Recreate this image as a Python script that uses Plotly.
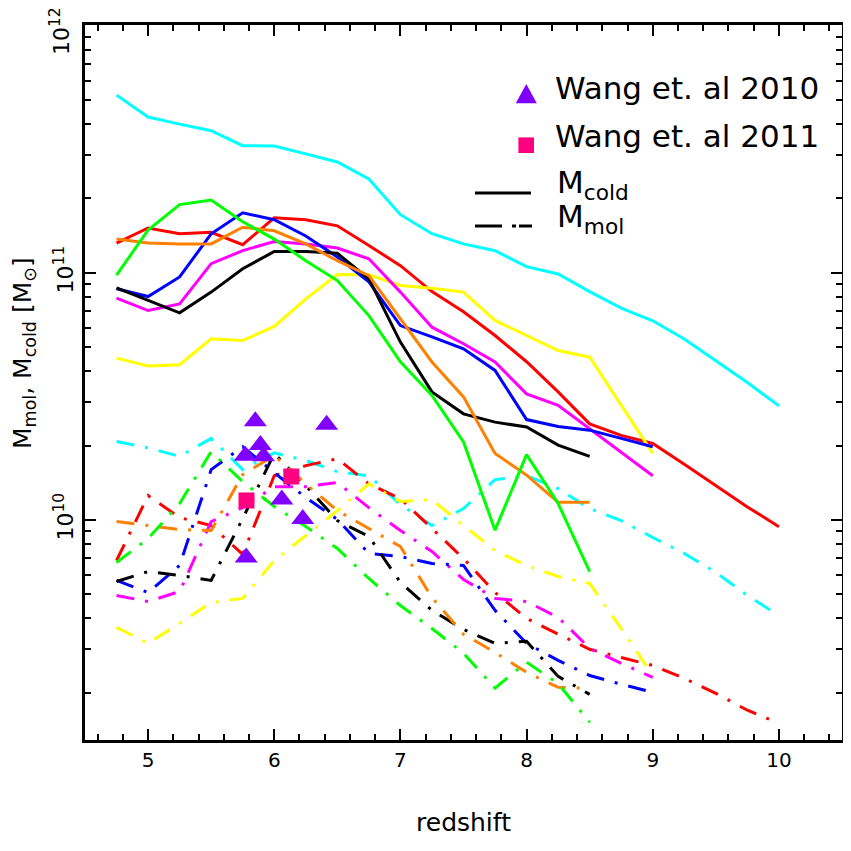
import plotly.graph_objects as go

# ---------------- data ----------------
z_10 = [4.75, 5.0, 5.25, 5.5, 5.75, 6.0, 6.25, 6.5, 6.75, 7.0, 7.25, 7.5,
        7.75, 8.0, 8.25, 8.5, 8.75, 9.0, 9.25, 9.5, 9.75, 10.0]
z_9 = [4.75, 5.0, 5.25, 5.5, 5.75, 6.0, 6.25, 6.5, 6.75, 7.0, 7.25, 7.5,
       7.75, 8.0, 8.25, 8.5, 8.75, 9.0]
z_85 = [4.75, 5.0, 5.25, 5.5, 5.75, 6.0, 6.25, 6.5, 6.75, 7.0, 7.25, 7.5,
        7.75, 8.0, 8.25, 8.5]

# cold gas mass (units of 1e10 Msun)
cold_cyan = [52.4, 42.7, 40.0, 37.6, 32.7, 32.6, 30.3, 28.1, 24.0, 17.2, 14.4, 13.1,
             12.3, 10.6, 9.9, 8.4, 7.2, 6.4, 5.4, 4.4, 3.6, 2.9]
cold_red = [13.2, 15.2, 14.4, 14.6, 13.0, 16.7, 16.4, 15.5, 12.9, 10.7, 8.4, 6.96,
            5.58, 4.37, 3.30, 2.45, 2.20, 2.04, 1.68, 1.38, 1.13, 0.94]
cold_yellow = [4.52, 4.20, 4.25, 5.41, 5.33, 6.07, 7.85, 9.84, 9.82, 8.89, 8.67, 8.36,
               6.42, 5.58, 4.85, 4.56, 2.91, 1.86]
cold_magenta = [7.90, 7.04, 7.49, 10.9, 12.3, 13.4, 13.1, 12.6, 11.4, 8.36, 6.03, 5.17,
                4.36, 3.24, 2.91, 2.34, 1.89, 1.51]
cold_blue = [8.62, 8.02, 9.63, 14.4, 17.5, 16.4, 14.1, 11.6, 9.20, 6.12, 5.51, 4.93,
             4.03, 2.55, 2.39, 2.31, 2.14, 1.98]
cold_black = [8.70, 7.73, 6.89, 8.36, 10.4, 12.2, 12.2, 12.0, 9.46, 5.25, 3.30, 2.69,
              2.49, 2.38, 2.01, 1.81]
cold_orange = [13.7, 13.2, 13.1, 13.1, 15.3, 14.8, 13.1, 11.2, 9.75, 6.52, 4.36, 3.15,
               1.86, 1.52, 1.18, 1.18]
cold_green = [9.8, 14.9, 18.9, 19.7, 16.1, 13.7, 11.2, 9.31, 6.72, 4.37, 3.19, 2.07,
              0.910, 1.84, 1.166, 0.618]

# molecular gas mass (units of 1e10 Msun)
mol_cyan = [2.08, 1.96, 1.81, 2.14, 1.60, 1.87, 1.74, 1.57, 1.51, 1.155, 0.950, 1.113,
            1.458, 1.51, 1.34, 1.113, 0.995, 0.850, 0.732, 0.614, 0.495, 0.411]
mol_red = [0.686, 1.256, 1.023, 0.950, 0.726, 1.51, 1.66, 1.77, 1.40, 1.22, 0.924, 0.699,
           0.509, 0.400, 0.345, 0.300, 0.278, 0.258, 0.229, 0.199, 0.170, 0.1506]
mol_yellow = [0.368, 0.317, 0.382, 0.464, 0.482, 0.686, 0.866, 1.092, 1.40, 1.188, 1.21, 0.950,
              0.753, 0.655, 0.591, 0.554, 0.364, 0.235]
mol_magenta = [0.495, 0.468, 0.514, 0.986, 1.123, 1.365, 1.365, 1.418, 1.123, 0.907, 0.746, 0.575,
               0.482, 0.468, 0.404, 0.3026, 0.263, 0.231]
mol_blue = [0.570, 0.509, 0.655, 1.60, 1.98, 1.555, 1.233, 1.005, 0.732, 0.712, 0.667, 0.655,
            0.431, 0.317, 0.2705, 0.235, 0.2165, 0.201]
mol_black = [0.564, 0.619, 0.597, 0.570, 1.014, 1.86, 1.378, 0.995, 0.858, 0.559, 0.431, 0.361,
             0.317, 0.323, 0.233, 0.197]
mol_orange = [0.986, 0.950, 0.915, 0.907, 1.527, 1.823, 1.40, 1.092, 0.924, 0.781, 0.486, 0.345,
              0.2915, 0.242, 0.2104, 0.2085]
mol_green = [0.673, 0.842, 1.166, 1.89, 1.43, 1.134, 0.941, 0.767, 0.580, 0.451, 0.364, 0.289,
             0.209, 0.266, 0.218, 0.152]

# observations
wang2010_z = [5.85, 5.89, 5.77, 5.915, 6.06, 6.226, 5.778, 6.415]
wang2010_m = [2.51, 2.01, 1.82, 1.81, 1.21, 1.01, 0.705, 2.43]
wang2011_z = [5.78, 6.135]
wang2011_m = [1.20, 1.50]

# y-axis major ticks (the top label is drawn as an annotation so it is not clipped)
y_tickvals = [1e10, 1e11, 1e12]
y_ticktext = ["10<sup>10</sup>", "10<sup>11</sup>", ""]
y_top_label = "10<sup>12</sup>"

UNIT = 1e10

series = [
    ("cyan", "#00FFFF", z_10, cold_cyan, mol_cyan),
    ("red", "#FF0000", z_10, cold_red, mol_red),
    ("yellow", "#FFFF00", z_9, cold_yellow, mol_yellow),
    ("magenta", "#FF00FF", z_9, cold_magenta, mol_magenta),
    ("blue", "#0000FF", z_9, cold_blue, mol_blue),
    ("black", "#000000", z_85, cold_black, mol_black),
    ("orange", "#FF8000", z_85, cold_orange, mol_orange),
    ("green", "#00FF00", z_85, cold_green, mol_green),
]

DASHDOT = "18px,11px,3px,11px"
FONT = "DejaVu Sans"

fig = go.Figure()
for name, col, zz, cold, mol in series:
    fig.add_trace(go.Scatter(x=zz, y=[v * UNIT for v in mol], mode="lines",
                             line=dict(color=col, width=3, dash=DASHDOT),
                             showlegend=False, name=name + " mol"))
for name, col, zz, cold, mol in series:
    fig.add_trace(go.Scatter(x=zz, y=[v * UNIT for v in cold], mode="lines",
                             line=dict(color=col, width=3),
                             showlegend=False, name=name + " cold"))

fig.add_trace(go.Scatter(x=wang2010_z, y=[v * UNIT for v in wang2010_m], mode="markers",
                         marker=dict(symbol="triangle-up", size=20, color="#8000FF",
                                     line=dict(width=0)),
                         showlegend=False, name="Wang et. al 2010"))
fig.add_trace(go.Scatter(x=wang2011_z, y=[v * UNIT for v in wang2011_m], mode="markers",
                         marker=dict(symbol="square", size=16, color="#FF0080",
                                     line=dict(width=0)),
                         showlegend=False, name="Wang et. al 2011"))

# page has an 8px body margin: compensate so the plot area lands where it should
OFF = 8
W, H = 851 - OFF, 851 - OFF
L, T = 85 - OFF, 25 - OFF
pw, ph = 757, 715
R, B = W - L - pw, H - T - ph


def px(xp):
    return (xp - 85) / pw


def py(yp):
    return (740 - yp) / ph


shapes = [
    # legend samples
    dict(type="path", xref="paper", yref="paper", xsizemode="pixel", ysizemode="pixel",
         xanchor=px(526.3), yanchor=py(96.9), path="M-10.5,-6.4 L10.5,-6.4 L0,12.9 Z",
         fillcolor="#8000FF", line=dict(width=0)),
    dict(type="rect", xref="paper", yref="paper", xsizemode="pixel", ysizemode="pixel",
         xanchor=px(526.2), yanchor=py(145.2), x0=-7.8, x1=7.8, y0=-7.8, y1=7.8,
         fillcolor="#FF0080", line=dict(width=0)),
    dict(type="line", xref="paper", yref="paper", x0=px(475), x1=px(531), y0=py(193), y1=py(193),
         line=dict(color="black", width=3)),
    dict(type="line", xref="paper", yref="paper", x0=px(475), x1=px(532), y0=py(226), y1=py(226),
         line=dict(color="black", width=3, dash="27px,10px,4px,3px")),
]

ann_font = dict(family=FONT, size=31, color="black")
annotations = [
    dict(text="Wang et. al 2010", x=px(553), y=py(88), xref="paper", yref="paper",
         xanchor="left", yanchor="middle", showarrow=False, font=ann_font),
    dict(text="Wang et. al 2011", x=px(553), y=py(136), xref="paper", yref="paper",
         xanchor="left", yanchor="middle", showarrow=False, font=ann_font),
    dict(text="M<sub>cold</sub>", x=px(555), y=py(184), xref="paper", yref="paper",
         xanchor="left", yanchor="middle", showarrow=False, font=ann_font),
    dict(text="M<sub>mol</sub>", x=px(555), y=py(218), xref="paper", yref="paper",
         xanchor="left", yanchor="middle", showarrow=False, font=ann_font),
    dict(text="M<sub>mol</sub>, M<sub>cold</sub> [M<sub>\u2299</sub>]", x=px(24), y=py(353),
         xref="paper", yref="paper", xanchor="center", yanchor="middle", textangle=-90,
         showarrow=False, font=dict(family=FONT, size=25, color="black")),
    dict(text=y_top_label, x=px(60), y=py(31), xref="paper", yref="paper",
         xanchor="center", yanchor="middle", textangle=-90, showarrow=False,
         font=dict(family=FONT, size=22, color="black")),
]

axis_common = dict(showline=True, linecolor="black", linewidth=3, mirror="allticks",
                   ticks="inside", ticklen=11, tickwidth=2, tickcolor="black",
                   showgrid=False, zeroline=False, automargin=False)

fig.update_layout(
    width=W, height=H,
    margin=dict(l=L, r=R, t=T, b=B, pad=0, autoexpand=False),
    paper_bgcolor="white", plot_bgcolor="white",
    showlegend=False,
    shapes=shapes, annotations=annotations,
    xaxis=dict(range=[4.5, 10.5], dtick=1, tick0=0,
               tickfont=dict(family=FONT, size=20, color="black"),
               minor=dict(dtick=0.2, tick0=0, ticks="inside", ticklen=6, tickwidth=2,
                          tickcolor="black", showgrid=False),
               title=dict(text="redshift", font=dict(family=FONT, size=25, color="black"),
                          standoff=43),
               **axis_common),
    yaxis=dict(type="log", range=[9.11, 12.003], tickmode="array",
               tickvals=y_tickvals, ticktext=y_ticktext,
               tickangle=-90, tickfont=dict(family=FONT, size=22, color="black"),
               minor=dict(dtick="D1", ticks="inside", ticklen=6, tickwidth=2,
                          tickcolor="black", showgrid=False),
               **axis_common),
)

fig.write_html("out.html")
